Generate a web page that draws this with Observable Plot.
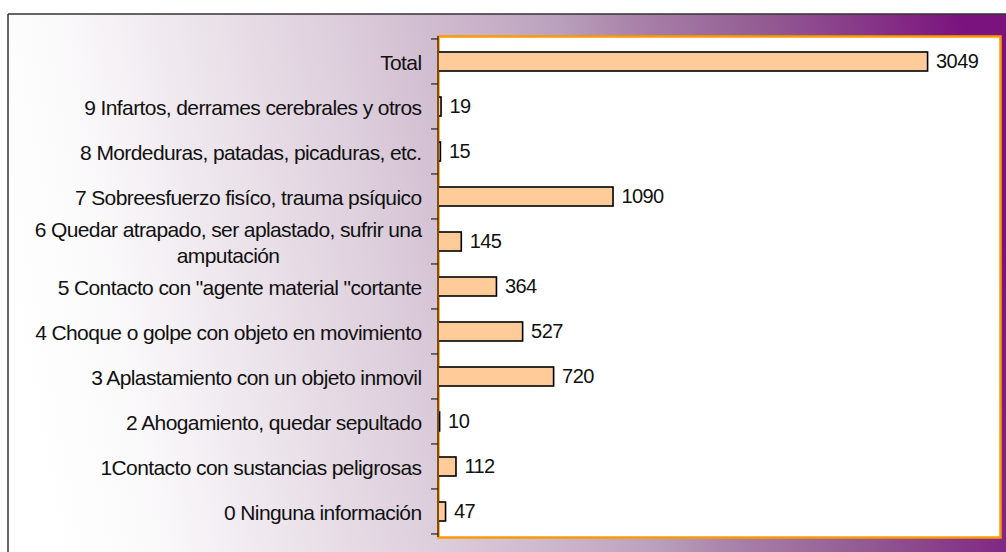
<!DOCTYPE html>
<html>
<head>
<meta charset="utf-8">
<script src="https://cdn.jsdelivr.net/npm/d3@7"></script>
<script src="https://cdn.jsdelivr.net/npm/@observablehq/plot@0.6"></script>
<style>
  html, body { margin: 0; padding: 0; background: #ffffff; }
  svg { display: block; }
</style>
</head>
<body>
<div id="chart"></div>
<script>
// ---- data ----
const categories = [
  "Total",
  "9 Infartos, derrames cerebrales y otros",
  "8 Mordeduras, patadas, picaduras, etc.",
  "7 Sobreesfuerzo fisíco, trauma psíquico",
  "6 Quedar atrapado, ser aplastado, sufrir una\namputación",
  "5 Contacto con \"agente material \"cortante",
  "4 Choque o golpe con objeto en movimiento",
  "3 Aplastamiento con un objeto inmovil",
  "2 Ahogamiento, quedar sepultado",
  "1Contacto con sustancias peligrosas",
  "0 Ninguna información"
];
const values = [3049, 19, 15, 1090, 145, 364, 527, 720, 10, 112, 47];
const xDomain = [0, 3500];

const data = categories.map((c, i) => ({category: c, value: values[i]}));

const padInner = 0.58;
const fontFamily = "'Liberation Sans', Arial, sans-serif";

// background gradient + outer frame
function background(index, scales, vals, dims) {
  const g = d3.create("svg:g");
  const defs = g.append("defs");
  const lg = defs.append("linearGradient")
    .attr("id", "bgGrad")
    .attr("x1", "0").attr("y1", "0.55").attr("x2", "1").attr("y2", "0.45");
  [
    [0, "#ffffff"], [0.1, "#fbfafb"], [0.38, "#ddcedc"], [0.53, "#c8b0c8"],
    [0.6, "#b9a0bc"], [0.68, "#a880a8"], [0.8, "#935d93"], [1, "#7b137e"]
  ].forEach(([o, c]) => lg.append("stop").attr("offset", o).attr("stop-color", c));
  g.append("rect").attr("x", 8).attr("y", 14)
    .attr("width", dims.width - 8).attr("height", dims.height - 14)
    .attr("fill", "url(#bgGrad)");
  g.append("line").attr("x1", 8).attr("x2", dims.width).attr("y1", 14).attr("y2", 14)
    .attr("stroke", "#333").attr("stroke-width", 1.5);
  g.append("line").attr("x1", 8).attr("x2", 8).attr("y1", 14).attr("y2", dims.height)
    .attr("stroke", "#333").attr("stroke-width", 1.5);
  return g.node();
}

// y axis line and ticks at band boundaries
function axisY(index, scales, vals, dims) {
  const g = d3.create("svg:g");
  const y = scales.y;
  const step = y(categories[1]) - y(categories[0]);
  const x0 = dims.marginLeft;
  const bounds = categories.map(c => y(c) - step * padInner / 2);
  bounds.push(bounds[bounds.length - 1] + step);
  g.append("line")
    .attr("x1", x0).attr("x2", x0)
    .attr("y1", dims.marginTop).attr("y2", dims.height - dims.marginBottom)
    .attr("stroke", "#7f4f12").attr("stroke-width", 2);
  bounds.forEach(b => {
    g.append("line").attr("x1", x0 - 7).attr("x2", x0)
      .attr("y1", b).attr("y2", b)
      .attr("stroke", "#222").attr("stroke-width", 1.2);
  });
  return g.node();
}

const chart = Plot.plot({
  width: 1006,
  height: 552,
  marginLeft: 438,
  marginRight: 6,
  marginTop: 36,
  marginBottom: 15,
  style: {fontFamily, background: "transparent", letterSpacing: "-0.6px"},
  x: {domain: xDomain, axis: null},
  y: {domain: categories, axis: null, paddingInner: padInner, paddingOuter: padInner / 2},
  marks: [
    background,
    Plot.frame({fill: "white", stroke: "#FF9900", strokeWidth: 2.5}),
    Plot.barX(data, {x: "value", y: "category", fill: "#FFCC99", stroke: "#000", strokeWidth: 1.6}),
    Plot.text(data, {x: 0, y: "category", text: "category", textAnchor: "end", dx: -17,
      fontSize: 21, fill: "#111", lineHeight: 1.2}),
    Plot.text(data, {x: "value", y: "category", text: d => String(d.value), textAnchor: "start", dx: 8,
      fontSize: 20, fill: "#111"}),
    axisY
  ]
});

document.getElementById("chart").appendChild(chart);

// center multi-line labels within their (right-aligned) block
d3.select(chart).selectAll("text").each(function() {
  const tspans = this.querySelectorAll("tspan");
  if (tspans.length > 1) {
    let w = 0;
    tspans.forEach(t => { w = Math.max(w, t.getComputedTextLength()); });
    this.setAttribute("text-anchor", "middle");
    tspans.forEach(t => { t.setAttribute("x", -w / 2); t.setAttribute("text-anchor", "middle"); });
  }
});
</script>
</body>
</html>
